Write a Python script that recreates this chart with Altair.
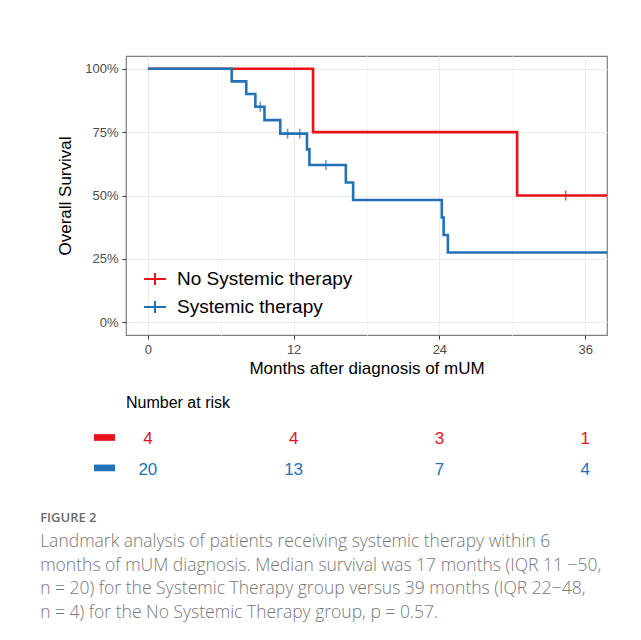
import altair as alt
import pandas as pd

groups = ["No Systemic therapy", "Systemic therapy"]
colors = ["#E8121B", "#2472B6"]

# Kaplan-Meier step points (months, survival)
no_time = [0, 13.6, 30.4, 38]
no_surv = [1.0, 0.75, 0.50, 0.50]
sys_time = [0, 6.9, 8.1, 8.85, 9.6, 10.9, 13.1, 13.3, 16.3, 16.9, 24.2, 24.35, 24.7, 38]
sys_surv = [1.0, 0.95, 0.90, 0.85, 0.797, 0.744, 0.682, 0.620, 0.551, 0.482, 0.413, 0.344, 0.275, 0.275]

# censoring marks
no_cens_time = [34.4]
no_cens_surv = [0.50]
sys_cens_time = [9.25, 11.5, 12.5, 14.66]
sys_cens_surv = [0.85, 0.744, 0.744, 0.620]

# number at risk
risk_times = [0, 12, 24, 36]
no_risk = [4, 4, 3, 1]
sys_risk = [20, 13, 7, 4]

x_ticks = [0, 6, 12, 18, 24, 30, 36]
y_ticks = [0, 0.125, 0.25, 0.375, 0.5, 0.625, 0.75, 0.875, 1.0]

caption_head = "FIGURE 2"
caption_lines = [
    "Landmark analysis of patients receiving systemic therapy within 6",
    "months of mUM diagnosis. Median survival was 17 months (IQR 11 \u221250,",
    "n = 20) for the Systemic Therapy group versus 39 months (IQR 22\u221248,",
    "n = 4) for the No Systemic Therapy group, p = 0.57.",
]

km_df = pd.DataFrame(
    {"time": no_time + sys_time,
     "surv": no_surv + sys_surv,
     "group": [groups[0]] * len(no_time) + [groups[1]] * len(sys_time)}
)
cens_df = pd.DataFrame(
    {"time": no_cens_time + sys_cens_time,
     "surv": no_cens_surv + sys_cens_surv,
     "group": [groups[0]] * len(no_cens_time) + [groups[1]] * len(sys_cens_time)}
)
risk_df = pd.DataFrame(
    {"time": risk_times * 2,
     "n": no_risk + sys_risk,
     "group": [groups[0]] * len(risk_times) + [groups[1]] * len(risk_times)}
)

FONT = "Liberation Sans"
xscale = alt.Scale(domain=[-1.8, 37.8], nice=False, zero=False)
yscale = alt.Scale(domain=[-0.05, 1.05], nice=False, zero=False)
cscale = alt.Scale(domain=groups, range=colors)

x_axis = alt.Axis(
    values=x_ticks,
    labelExpr="datum.value % 12 === 0 ? datum.label : ''",
    tickOpacity={"condition": {"test": "datum.value % 12 === 0", "value": 1}, "value": 0},
    gridColor={"condition": {"test": "datum.value % 12 === 0", "value": "#ebebeb"}, "value": "#f5f5f5"},
    title="Months after diagnosis of mUM",
    domain=False, tickColor="#333333", tickSize=4, tickWidth=1,
    labelColor="#4d4d4d", labelFontSize=13, labelFont=FONT, labelPadding=4,
    titleFont=FONT, titleFontSize=17, titleFontWeight="normal", titleColor="#000000",
    titlePadding=4,
)
y_axis = alt.Axis(
    values=y_ticks, format=".0%",
    labelExpr="(datum.value * 8) % 2 === 0 ? datum.label : ''",
    tickOpacity={"condition": {"test": "(datum.value * 8) % 2 === 0", "value": 1}, "value": 0},
    gridColor={"condition": {"test": "(datum.value * 8) % 2 === 0", "value": "#ebebeb"}, "value": "#f5f5f5"},
    title="Overall Survival",
    domain=False, tickColor="#333333", tickSize=4, tickWidth=1,
    labelColor="#4d4d4d", labelFontSize=13, labelFont=FONT, labelPadding=4,
    titleFont=FONT, titleFontSize=17, titleFontWeight="normal", titleColor="#000000",
    titlePadding=10,
)

legend = alt.Legend(
    orient="none", legendX=17, legendY=211, title=None,
    symbolType="M-1,0L1,0M0,-0.55L0,0.55", symbolSize=484, symbolStrokeWidth=2,
    symbolFillColor="transparent",
    labelFontSize=19, labelFont=FONT, labelColor="#000000", labelOffset=10,
    labelLimit=0, rowPadding=5, padding=0,
)

lines = alt.Chart(km_df).mark_line(interpolate="step-after", strokeWidth=2.6, clip=True).encode(
    x=alt.X("time:Q", scale=xscale, axis=x_axis),
    y=alt.Y("surv:Q", scale=yscale, axis=y_axis),
    color=alt.Color("group:N", scale=cscale, legend=legend),
)
ticks = alt.Chart(cens_df).mark_tick(orient="vertical", size=10, thickness=1.6).encode(
    x=alt.X("time:Q", scale=xscale),
    y=alt.Y("surv:Q", scale=yscale),
    color=alt.Color("group:N", scale=cscale, legend=None),
)
km = alt.layer(lines, ticks).properties(
    width=481, height=279,
    view=alt.ViewBackground(stroke="#7f7f7f", strokeWidth=1.2),
)

risk_legend = alt.Legend(
    orient="none", legendX=-32, legendY=4, title=None,
    symbolType="M-1,-0.32L1,-0.32L1,0.32L-1,0.32Z", symbolSize=441,
    symbolStrokeWidth=0, symbolOpacity=1,
    labelExpr="''", labelFontSize=1, labelOffset=0,
    rowPadding=16.4, padding=0,
)

risk = alt.Chart(risk_df).mark_text(fontSize=17, font=FONT).encode(
    x=alt.X("time:Q", scale=xscale, axis=None),
    y=alt.Y("group:N", sort=groups,
            scale=alt.Scale(domain=groups, paddingInner=0, paddingOuter=0),
            axis=None),
    text="n:Q",
    color=alt.Color("group:N", scale=cscale, legend=risk_legend),
).properties(
    width=481, height=63,
    title=alt.Title("Number at risk", anchor="start", frame="group", fontSize=16,
                    fontWeight="normal", font=FONT, color="#000000", offset=12),
    view=alt.ViewBackground(stroke=None),
)

chart = alt.vconcat(km, risk, spacing=18).resolve_scale(color="independent").properties(
    title=alt.Title(
        text=caption_head, subtitle=caption_lines, orient="bottom", anchor="start",
        font="Open Sans", fontSize=13, fontWeight=600, color="#6a6a6a",
        subtitleFont="Open Sans", subtitleFontSize=17.5, subtitleFontWeight=300,
        subtitleColor="#777777",
        subtitleLineHeight=23.5, subtitlePadding=8, offset=26, dx=-16,
    ),
    padding={"left": 40, "top": 55, "right": 5, "bottom": 5},
).configure_view(stroke=None).configure(background="white")

chart.save("out.html", embed_options={"renderer": "svg", "actions": False})
